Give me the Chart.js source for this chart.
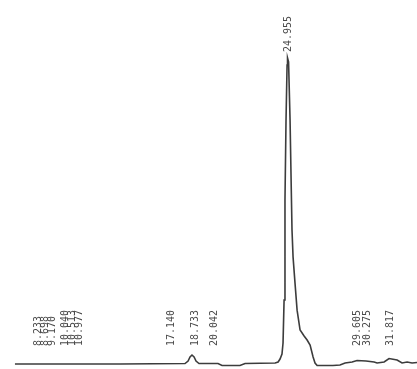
<!DOCTYPE html>
<html>
<head>
<meta charset="utf-8">
<script src="https://cdn.jsdelivr.net/npm/chart.js@4/dist/chart.umd.min.js"></script>
<style>
  html, body { margin: 0; padding: 0; background: #fff; }
  canvas { display: block; }
</style>
</head>
<body>
<canvas id="chrom" width="417" height="369"></canvas>
<script>
// Detector trace: retention time (min) and signal (% of the main peak)
const traceTimes = [
  6.69, 9.70, 13.72, 18.065, 18.27, 18.40, 18.53, 18.67, 18.80, 19.00,
  20.27, 20.54, 21.74, 22.08, 24.09, 24.29, 24.42, 24.55, 24.62, 24.69,
  24.75, 24.82, 24.89, 24.92, 24.99, 25.09, 25.16, 25.22, 25.29, 25.42,
  25.56, 25.76, 26.03, 26.23, 26.43, 26.63, 26.76, 26.90, 27.96, 28.43,
  28.77, 29.24, 29.57, 30.17, 30.71, 30.91, 31.38, 31.71, 32.25, 32.58,
  32.92, 33.25, 33.58
];
const traceSignal = [
  0, 0, 0, 0.16, 0.98, 2.29, 2.94, 2.29, 0.98, 0.16,
  0.16, -0.49, -0.49, 0.16, 0.33, 0.65, 1.63, 3.27, 6.86, 20.9,
  53.6, 79.7, 97.7, 100, 98.7, 79.7, 60.1, 43.8, 35.0, 26.5,
  17.6, 11.1, 9.15, 7.84, 6.21, 2.29, 0.33, -0.49, -0.49, -0.33,
  0.33, 0.65, 1.14, 0.98, 0.65, 0.33, 0.65, 1.80, 1.31, 0.33,
  0.65, 0.33, 0.49
];

// Retention-time annotations printed above the peaks
const peakTimes  = [8.233, 8.698, 9.170, 10.040, 10.513, 10.977,
                    17.140, 18.733, 20.042, 24.955, 29.605, 30.275, 31.817];
const peakLabels = ["8.233", "8.698", "9.170", "10.040", "10.513", "10.977",
                    "17.140", "18.733", "20.042", "24.955", "29.605", "30.275", "31.817"];

const points = traceTimes.map((t, i) => ({ x: t, y: traceSignal[i] }));

// Signal level at a given time (max of nearby trace points)
function peakLevel(t) {
  let m = 0;
  traceTimes.forEach((tt, i) => {
    if (Math.abs(tt - t) <= 0.15) m = Math.max(m, traceSignal[i]);
  });
  return m;
}

const retentionLabels = {
  id: 'retentionLabels',
  afterDatasetsDraw(chart) {
    const { ctx, scales: { x, y } } = chart;
    const base = y.getPixelForValue(0);
    ctx.save();
    ctx.font = '10px "DejaVu Sans Mono", monospace';
    ctx.fillStyle = '#4a4a4a';
    ctx.textAlign = 'left';
    ctx.textBaseline = 'middle';
    peakTimes.forEach((t, i) => {
      const px = x.getPixelForValue(t);
      const bottom = Math.min(base - 18, y.getPixelForValue(peakLevel(t)) - 6);
      ctx.save();
      ctx.translate(px, bottom);
      ctx.rotate(-Math.PI / 2);
      ctx.fillText(peakLabels[i], 0, 0);
      ctx.restore();
    });
    ctx.restore();
  }
};

new Chart(document.getElementById('chrom'), {
  type: 'line',
  data: {
    datasets: [{
      data: points,
      borderColor: '#3c3c3c',
      borderWidth: 1.6,
      pointRadius: 0,
      tension: 0,
      fill: false
    }]
  },
  options: {
    responsive: false,
    animation: false,
    layout: { padding: 0 },
    plugins: { legend: { display: false }, tooltip: { enabled: false } },
    scales: {
      x: { type: 'linear', min: 5.69, max: 33.58, display: false },
      y: { type: 'linear', min: -1.63, max: 118.95, display: false }
    }
  },
  plugins: [retentionLabels]
});
</script>
</body>
</html>
